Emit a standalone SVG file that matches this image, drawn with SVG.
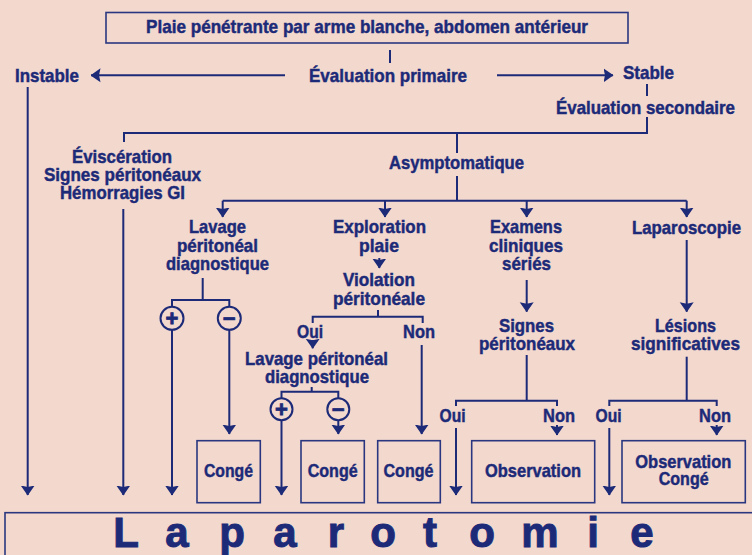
<svg xmlns="http://www.w3.org/2000/svg" width="752" height="555" viewBox="0 0 752 555">
<style>
text{font-family:"Liberation Sans Narrow","Arial Narrow","Liberation Sans",Arial,sans-serif;font-weight:bold;fill:#1c2a78;stroke:#1c2a78;stroke-width:0.45;font-size:18.5px}
.box{fill:none;stroke:#2a3780;stroke-width:1.6}
.c{fill:none;stroke:#1c2a78;stroke-width:2}
.circ{fill:none;stroke:#1c2a78;stroke-width:2}
.big{font-size:42px;stroke-width:1}
.sym{font-family:"Liberation Sans",Arial,sans-serif;font-size:22px;text-anchor:middle;stroke-width:0.8}
</style>
<defs>
<marker id="ah" markerUnits="userSpaceOnUse" viewBox="0 -8 10 16" refX="9.5" refY="0" markerWidth="10" markerHeight="16" orient="auto">
<path d="M0,-7 L10,0 L0,7 L1.5,0 Z" fill="#1c2a78"/>
</marker>
</defs>
<rect width="752" height="555" fill="#f2d8cd"/>

<g id="connectors">
<path class="c" d="M390,50 V63"/>
<path class="c" d="M285,75.3 H91" marker-end="url(#ah)"/>
<path class="c" d="M497,75.3 H613" marker-end="url(#ah)"/>
<path class="c" d="M647,84 V96"/>
<path class="c" d="M647,117 V133 H124 V142"/>
<path class="c" d="M457,133 V153"/>
<path class="c" d="M457,176 V200.7"/>
<path class="c" d="M222.7,200.7 H686.7"/>
<path class="c" d="M222.7,200.7 V217" marker-end="url(#ah)"/>
<path class="c" d="M385,200.7 V217" marker-end="url(#ah)"/>
<path class="c" d="M526.7,200.7 V217" marker-end="url(#ah)"/>
<path class="c" d="M686.7,200.7 V217" marker-end="url(#ah)"/>
<path class="c" d="M27.7,87 V495" marker-end="url(#ah)"/>
<path class="c" d="M123.3,209 V495" marker-end="url(#ah)"/>
<path class="c" d="M202.7,278 V300"/>
<path class="c" d="M172,306.5 V300 H229.3 V306.5"/>
<path class="c" d="M172,330 V495" marker-end="url(#ah)"/>
<path class="c" d="M229.3,330 V434" marker-end="url(#ah)"/>
<path class="c" d="M379.3,258 V268" marker-end="url(#ah)"/>
<path class="c" d="M378,310 V316.7"/>
<path class="c" d="M312.7,323 V316.7 H422.7 V323"/>
<path class="c" d="M312.7,340 V348.3" marker-end="url(#ah)"/>
<path class="c" d="M421.7,345 V434" marker-end="url(#ah)"/>
<path class="c" d="M311.7,387 V391.7"/>
<path class="c" d="M281.5,398 V391.7 H338.3 V398"/>
<path class="c" d="M281.5,420.5 V495" marker-end="url(#ah)"/>
<path class="c" d="M338.3,420.5 V434" marker-end="url(#ah)"/>
<path class="c" d="M526.7,280 V311.7" marker-end="url(#ah)"/>
<path class="c" d="M526.7,355 V400.7"/>
<path class="c" d="M456,406 V400.7 H557 V406"/>
<path class="c" d="M456,428 V495" marker-end="url(#ah)"/>
<path class="c" d="M557,425 V435" marker-end="url(#ah)"/>
<path class="c" d="M686.7,240 V311.7" marker-end="url(#ah)"/>
<path class="c" d="M686.7,356.7 V400.7"/>
<path class="c" d="M609.3,406 V400.7 H716.7 V406"/>
<path class="c" d="M609.3,428 V495" marker-end="url(#ah)"/>
<path class="c" d="M716.7,425 V435" marker-end="url(#ah)"/>
</g>

<g id="n-plaie">
<rect class="box" x="106" y="12.5" width="522" height="30.5"/>
<text x="146" y="33" font-size="19.5" textLength="442" lengthAdjust="spacingAndGlyphs">Plaie pénétrante par arme blanche, abdomen antérieur</text>
</g>
<g id="n-eval1"><text x="309" y="82" textLength="158" lengthAdjust="spacingAndGlyphs">Évaluation primaire</text></g>
<g id="n-instable"><text x="15" y="82" textLength="64" lengthAdjust="spacingAndGlyphs">Instable</text></g>
<g id="n-stable"><text x="623" y="79" textLength="51" lengthAdjust="spacingAndGlyphs">Stable</text></g>
<g id="n-eval2"><text x="556" y="114" textLength="179" lengthAdjust="spacingAndGlyphs">Évaluation secondaire</text></g>
<g id="n-evisc">
<text x="72" y="163" textLength="100" lengthAdjust="spacingAndGlyphs">Éviscération</text>
<text x="44" y="181" textLength="157" lengthAdjust="spacingAndGlyphs">Signes péritonéaux</text>
<text x="60" y="199" textLength="125" lengthAdjust="spacingAndGlyphs">Hémorragies GI</text>
</g>
<g id="n-asympt"><text x="389" y="169" textLength="135" lengthAdjust="spacingAndGlyphs">Asymptomatique</text></g>
<g id="n-lpd1">
<text x="189" y="233" textLength="57" lengthAdjust="spacingAndGlyphs">Lavage</text>
<text x="177" y="251.7" textLength="81" lengthAdjust="spacingAndGlyphs">péritonéal</text>
<text x="166" y="270" textLength="103" lengthAdjust="spacingAndGlyphs">diagnostique</text>
</g>
<g id="n-lpd1-plus"><circle class="circ" cx="172" cy="318.3" r="11.5"/><text class="sym" x="172" y="326">+</text></g>
<g id="n-lpd1-minus"><circle class="circ" cx="229.3" cy="318.3" r="11.5"/><text class="sym" x="229.3" y="326">−</text></g>
<g id="n-explo">
<text x="333" y="233" textLength="93" lengthAdjust="spacingAndGlyphs">Exploration</text>
<text x="359" y="251.7" textLength="40" lengthAdjust="spacingAndGlyphs">plaie</text>
</g>
<g id="n-violation">
<text x="343" y="286" textLength="72" lengthAdjust="spacingAndGlyphs">Violation</text>
<text x="333" y="305" textLength="92" lengthAdjust="spacingAndGlyphs">péritonéale</text>
<text x="297" y="338" textLength="26" lengthAdjust="spacingAndGlyphs">Oui</text>
<text x="403" y="338" textLength="32" lengthAdjust="spacingAndGlyphs">Non</text>
</g>
<g id="n-lpd2">
<text x="245" y="365" textLength="143" lengthAdjust="spacingAndGlyphs">Lavage péritonéal</text>
<text x="265" y="383" textLength="104" lengthAdjust="spacingAndGlyphs">diagnostique</text>
</g>
<g id="n-lpd2-plus"><circle class="circ" cx="281.5" cy="409.3" r="11"/><text class="sym" x="281.5" y="417">+</text></g>
<g id="n-lpd2-minus"><circle class="circ" cx="338.3" cy="409.3" r="11"/><text class="sym" x="338.3" y="417">−</text></g>
<g id="n-examens">
<text x="490" y="233" textLength="72" lengthAdjust="spacingAndGlyphs">Examens</text>
<text x="489" y="251.7" textLength="74" lengthAdjust="spacingAndGlyphs">cliniques</text>
<text x="502" y="270" textLength="49" lengthAdjust="spacingAndGlyphs">sériés</text>
</g>
<g id="n-signes">
<text x="499" y="331.7" textLength="55" lengthAdjust="spacingAndGlyphs">Signes</text>
<text x="479" y="350" textLength="96" lengthAdjust="spacingAndGlyphs">péritonéaux</text>
<text x="439.5" y="422.3" textLength="26" lengthAdjust="spacingAndGlyphs">Oui</text>
<text x="543" y="422.3" textLength="32" lengthAdjust="spacingAndGlyphs">Non</text>
</g>
<g id="n-laparo">
<text x="632" y="234" textLength="109" lengthAdjust="spacingAndGlyphs">Laparoscopie</text>
</g>
<g id="n-lesions">
<text x="655" y="331.7" textLength="61" lengthAdjust="spacingAndGlyphs">Lésions</text>
<text x="631" y="350" textLength="109" lengthAdjust="spacingAndGlyphs">significatives</text>
<text x="595.5" y="422.3" textLength="26" lengthAdjust="spacingAndGlyphs">Oui</text>
<text x="699" y="422.3" textLength="32" lengthAdjust="spacingAndGlyphs">Non</text>
</g>
<g id="n-conge1">
<rect class="box" x="197" y="440.7" width="63.3" height="62"/>
<text x="204" y="476.7" font-size="19" textLength="49" lengthAdjust="spacingAndGlyphs">Congé</text>
</g>
<g id="n-conge2">
<rect class="box" x="301" y="440.7" width="63.3" height="62"/>
<text x="307.7" y="476.7" font-size="19" textLength="50" lengthAdjust="spacingAndGlyphs">Congé</text>
</g>
<g id="n-conge3">
<rect class="box" x="377.7" y="440.7" width="62.6" height="62"/>
<text x="383.5" y="476.7" font-size="19" textLength="50" lengthAdjust="spacingAndGlyphs">Congé</text>
</g>
<g id="n-observation">
<rect class="box" x="471.7" y="440.7" width="123" height="62"/>
<text x="485" y="476.7" font-size="19" textLength="96" lengthAdjust="spacingAndGlyphs">Observation</text>
</g>
<g id="n-obs-conge">
<rect class="box" x="622" y="440.7" width="123.3" height="62"/>
<text x="635.3" y="468.3" font-size="19" textLength="96" lengthAdjust="spacingAndGlyphs">Observation</text>
<text x="658.7" y="485" font-size="19" textLength="50" lengthAdjust="spacingAndGlyphs">Congé</text>
</g>
<g id="n-laparotomie">
<rect class="box" x="5" y="512.7" width="760" height="60"/>
<text class="big" text-anchor="middle" x="126 177 232 285 336 383 430 482 540 593 642" y="546.7">Laparotomie</text>
</g>
</svg>
